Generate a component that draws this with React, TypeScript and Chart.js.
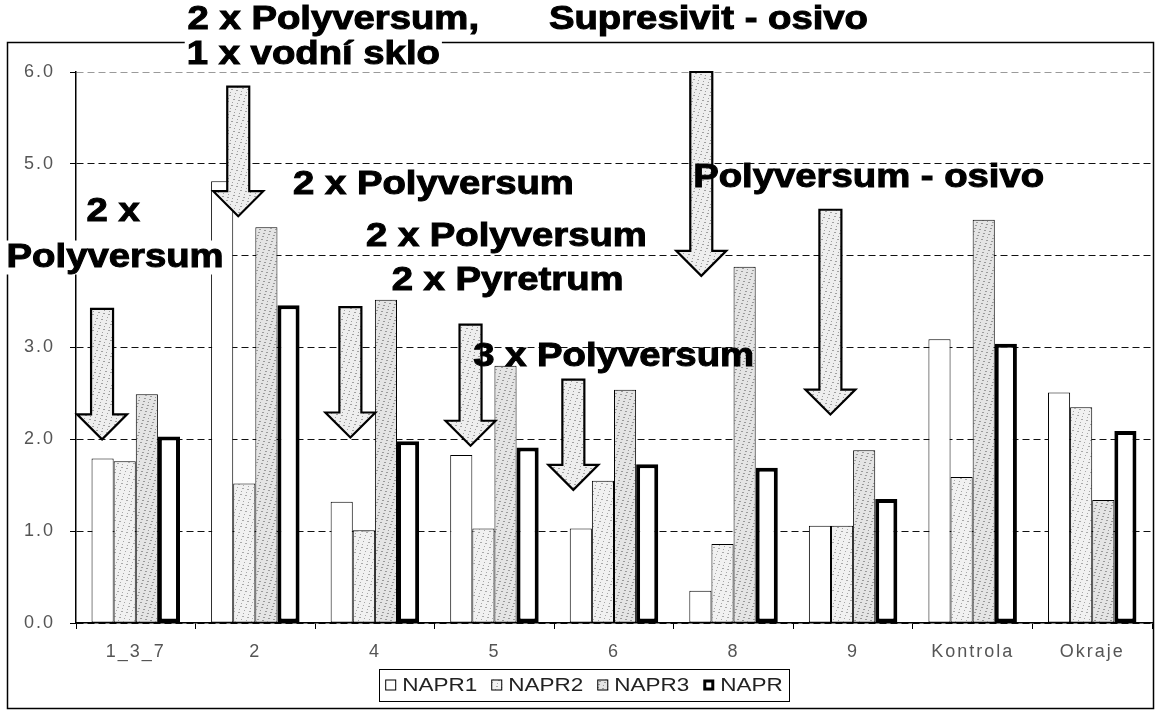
import React, { useEffect, useRef } from "react";
import { Chart, registerables } from "chart.js";

Chart.register(...registerables);

// ---- data ----
const categories = ["1_3_7", "2", "4", "5", "6", "8", "9", "Kontrola", "Okraje"];
const napr1 = [1.79, 4.81, 1.32, 1.83, 1.03, 0.35, 1.06, 3.09, 2.51];
const napr2 = [1.76, 1.52, 1.01, 1.03, 1.55, 0.86, 1.06, 1.59, 2.35];
const napr3 = [2.49, 4.31, 3.52, 2.8, 2.54, 3.88, 1.88, 4.39, 1.34];
const napr = [2.03, 3.46, 1.98, 1.91, 1.73, 1.69, 1.35, 3.04, 2.09];
const seriesNames = ["NAPR1", "NAPR2", "NAPR3", "NAPR"];
const yMin = 0;
const yMax = 6;
const yStep = 1;

// annotation texts (anchored in category index / value space)
const noteTexts = [
  "2 x",
  "Polyversum",
  "2 x Polyversum,",
  "1 x vodní sklo",
  "2 x Polyversum",
  "2 x Polyversum",
  "2 x Pyretrum",
  "3 x Polyversum",
  "Supresivit - osivo",
  "Polyversum - osivo",
];
const noteX = [-0.19, -0.173, 1.652, 1.485, 2.49, 3.1, 3.11, 3.997, 4.79, 6.13];
const noteY = [4.48, 3.98, 6.57, 6.19, 4.77, 4.2, 3.73, 2.9, 6.57, 4.85];

// block arrows (category index position, top value, tip value)
const arrowX = [-0.282, 0.857, 1.795, 2.8, 3.66, 4.73, 5.81];
const arrowTop = [3.42, 5.84, 3.44, 3.25, 2.65, 6.0, 4.5];
const arrowTip = [2.0, 4.43, 2.02, 1.93, 1.45, 3.78, 2.27];

const FONT = '"Liberation Sans", Arial, sans-serif';

function makePattern(base: string, dot: string, n: number) {
  const c = document.createElement("canvas");
  c.width = 16;
  c.height = 16;
  const g = c.getContext("2d")!;
  g.fillStyle = base;
  g.fillRect(0, 0, 16, 16);
  g.fillStyle = dot;
  for (let i = 0; i < n; i++) {
    const x = (i * 7 + 3) % 16;
    const y = (i * 11 + 5 + Math.floor(i / 16) * 3) % 16;
    g.fillRect(x, y, 1, 1);
  }
  return g.createPattern(c, "repeat") as CanvasPattern;
}

export default function App() {
  const ref = useRef<HTMLCanvasElement | null>(null);

  useEffect(() => {
    const canvas = ref.current!;
    const pat2 = makePattern("#f1f1f1", "#a8a8a8", 22);
    const pat3 = makePattern("#e4e4e4", "#9a9a9a", 30);
    const patArrow = makePattern("#eeeeee", "#a0a0a0", 24);
    const fills = ["#ffffff", pat2, pat3, "#ffffff"];
    const borders = [1, 1, 1, 4];

    const decor = {
      id: "decor",
      beforeDraw(chart: any) {
        const { ctx, width, height } = chart;
        ctx.save();
        ctx.fillStyle = "#fff";
        ctx.fillRect(0, 0, width, height);
        ctx.strokeStyle = "#000";
        ctx.lineWidth = 1.5;
        ctx.strokeRect(7.5, 42.5, 1146, 666);
        ctx.restore();
        (ctx as any).letterSpacing = "2px";
      },
      afterDraw(chart: any) {
        const { ctx, chartArea } = chart;
        (ctx as any).letterSpacing = "0px";
        const xs = chart.scales.x;
        const ys = chart.scales.y;
        ctx.save();
        // arrows
        arrowX.forEach((av, i) => {
          const cx = xs.getPixelForValue(av);
          const top = ys.getPixelForValue(arrowTop[i]);
          const tip = ys.getPixelForValue(arrowTip[i]);
          const hh = 25;
          const hw = 25;
          const sw = 11;
          ctx.beginPath();
          ctx.moveTo(cx - sw, top);
          ctx.lineTo(cx + sw, top);
          ctx.lineTo(cx + sw, tip - hh);
          ctx.lineTo(cx + hw, tip - hh);
          ctx.lineTo(cx, tip);
          ctx.lineTo(cx - hw, tip - hh);
          ctx.lineTo(cx - sw, tip - hh);
          ctx.closePath();
          ctx.fillStyle = patArrow;
          ctx.fill();
          ctx.lineWidth = 2.2;
          ctx.strokeStyle = "#000";
          ctx.lineJoin = "miter";
          ctx.stroke();
        });
        // texts
        const tsx = 1.16;
        ctx.font = `bold 33px ${FONT}`;
        ctx.textAlign = "center";
        ctx.textBaseline = "middle";
        noteTexts.forEach((t, i) => {
          const px = xs.getPixelForValue(noteX[i]);
          const py = ys.getPixelForValue(noteY[i]);
          const w = ctx.measureText(t).width * tsx;
          if (noteY[i] > yMax || px - w / 2 < chartArea.left) {
            ctx.fillStyle = "#fff";
            ctx.fillRect(px - w / 2 - 2, py - 17, w + 4, 34);
          }
          ctx.save();
          ctx.translate(px, py);
          ctx.scale(tsx, 1);
          ctx.fillStyle = "#000";
          ctx.fillText(t, 0, 0);
          ctx.lineWidth = 1;
          ctx.strokeStyle = "#000";
          ctx.strokeText(t, 0, 0);
          ctx.restore();
        });
        // legend
        const sx = 1.25;
        ctx.font = `18px ${FONT}`;
        ctx.textAlign = "left";
        ctx.textBaseline = "middle";
        const sq = 11;
        const gap1 = 6;
        const gap2 = 14;
        const tw = seriesNames.map((n) => ctx.measureText(n).width * sx);
        const itemW = tw.map((w) => sq + gap1 + w);
        const total = itemW.reduce((a, b) => a + b, 0) + gap2 * (seriesNames.length - 1);
        const padX = 6;
        const boxW = total + padX * 2;
        const boxX = 584 - boxW / 2;
        const boxY = 669;
        const boxH = 32;
        ctx.fillStyle = "#fff";
        ctx.fillRect(boxX, boxY, boxW, boxH);
        ctx.strokeStyle = "#000";
        ctx.lineWidth = 1;
        ctx.strokeRect(Math.round(boxX) + 0.5, boxY + 0.5, Math.round(boxW), boxH);
        let x = boxX + padX;
        const cy = boxY + boxH / 2;
        seriesNames.forEach((n, i) => {
          ctx.fillStyle = fills[i];
          ctx.fillRect(x, cy - sq / 2, sq, sq);
          const bw = i === 3 ? 3 : 1;
          ctx.lineWidth = bw;
          ctx.strokeStyle = "#000";
          ctx.strokeRect(x + bw / 2, cy - sq / 2 + bw / 2, sq - bw, sq - bw);
          ctx.save();
          ctx.translate(x + sq + gap1, cy + 1);
          ctx.scale(sx, 1);
          ctx.fillStyle = "#222";
          ctx.fillText(n, 0, 0);
          ctx.restore();
          x += itemW[i] + gap2;
        });
        ctx.restore();
      },
    };

    const seriesData = [napr1, napr2, napr3, napr];
    const chart = new Chart(canvas, {
      type: "bar",
      data: {
        labels: categories,
        datasets: seriesNames.map((name, i) => ({
          label: name,
          data: seriesData[i],
          backgroundColor: fills[i] as any,
          borderColor: "#000",
          borderWidth: borders[i],
          borderSkipped: false,
        })),
      },
      options: {
        animation: false,
        responsive: false,
        layout: { padding: { left: 0, right: 3, top: 72, bottom: 0 } },
        datasets: { bar: { categoryPercentage: 0.74, barPercentage: 1 } },
        plugins: { legend: { display: false }, tooltip: { enabled: false } },
        scales: {
          x: {
            grid: {
              display: true,
              drawOnChartArea: false,
              drawTicks: true,
              tickLength: 6,
              color: "#000",
              offset: true,
            },
            border: { display: true, color: "#000", width: 1.5 },
            ticks: {
              color: "#555",
              font: { family: FONT, size: 18 },
              padding: 12,
              maxRotation: 0,
              autoSkip: false,
            },
            afterFit: (s: any) => {
              s.height = 96;
            },
          },
          y: {
            min: yMin,
            max: yMax,
            ticks: {
              stepSize: yStep,
              color: "#555",
              font: { family: FONT, size: 18 },
              padding: 15,
              callback: (v: any) => Number(v).toFixed(1),
            },
            grid: {
              color: (c: any) => (c.tick && c.tick.value === yMax ? "#9a9a9a" : "#111"),
              tickColor: "#000",
              tickLength: 6,
              tickBorderDash: [],
            },
            border: { display: true, color: "#000", width: 1.5, dash: [7, 4] },
            afterFit: (s: any) => {
              s.width = 76;
            },
          },
        },
      },
      plugins: [decor],
    } as any);
    return () => chart.destroy();
  }, []);

  return (
    <div style={{ position: "absolute", left: 0, top: 0, width: 1155, height: 719, background: "#fff" }}>
      <canvas ref={ref} width={1155} height={719} style={{ display: "block" }} />
    </div>
  );
}
